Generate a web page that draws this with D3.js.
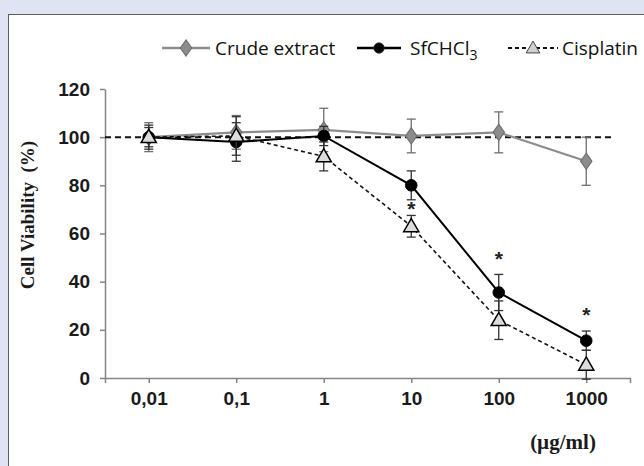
<!DOCTYPE html>
<html>
<head>
<meta charset="utf-8">
<script src="https://cdn.jsdelivr.net/npm/d3@7"></script>
<style>
  body { margin: 0; background: #dfe3f2; }
  svg { display: block; }
</style>
</head>
<body>
<svg class="chart"></svg>
<script>
// concentrations (µg/ml) and tick labels
var doses = [0.01, 0.1, 1, 10, 100, 1000];
var doseLabels = ["0,01", "0,1", "1", "10", "100", "1000"];
var yTicks = [0, 20, 40, 60, 80, 100, 120];

// cell viability (%) and error (sd)
var crudeMean = [100, 102, 103, 100.5, 102, 90];
var crudeErr = [6, 7, 9, 7, 8.5, 10];
var sfMean = [100, 98, 100.5, 80, 35.5, 15.5];
var sfErr = [5, 8, 4, 6, 7.5, 4];
var cisMean = [100, 100.5, 92, 63, 24, 5.5];
var cisErr = [4, 8, 6, 4.5, 8, 6];

// significance stars
var starDoses = [10, 100, 1000];
var starValues = [71.5, 50.5, 27.5];

var width = 644, height = 466;

var svg = d3.select("svg.chart")
	.attr("width", width)
	.attr("height", height);

// white panel
svg.append("rect")
	.attr("x", 8.5)
	.attr("y", 14.5)
	.attr("width", 700)
	.attr("height", 500)
	.attr("fill", "#fff")
	.attr("stroke", "#5e5e5e")
	.attr("stroke-width", 1);

var x = d3.scaleLog()
	.domain([Math.pow(10, -2.5), Math.pow(10, 3.5)])
	.range([105, 630]);

var y = d3.scaleLinear()
	.domain([0, 120])
	.range([378, 89]);

var axisColor = "#858585";
var tickFont = "bold 19px 'Liberation Sans', Arial, sans-serif";

// y axis
var yAxis = svg.append("g")
	.attr("transform", "translate(105,0)")
	.call(d3.axisLeft(y).tickValues(yTicks).tickSize(5).tickSizeOuter(0).tickPadding(10));
yAxis.select(".domain").attr("stroke", axisColor).attr("stroke-width", 1.5);
yAxis.selectAll(".tick line").attr("stroke", axisColor).attr("stroke-width", 1.5);
yAxis.selectAll(".tick text")
	.attr("fill", "#1a1a1a")
	.style("font", tickFont);

// x axis, ticks at every dose plus both ends
var xAxis = svg.append("g")
	.attr("transform", "translate(0,378)")
	.call(d3.axisBottom(x).tickValues(doses).tickSize(5).tickSizeOuter(5).tickPadding(9)
		.tickFormat(function(d, i) { return doseLabels[i]; }));
xAxis.select(".domain").attr("stroke", axisColor).attr("stroke-width", 1.5);
xAxis.selectAll(".tick line").attr("stroke", axisColor).attr("stroke-width", 1.5);
xAxis.selectAll(".tick text")
	.attr("fill", "#1a1a1a")
	.style("font", tickFont);

// axis titles
svg.append("text")
	.attr("transform", "translate(34,215) rotate(-90)")
	.attr("text-anchor", "middle")
	.attr("fill", "#1a1a1a")
	.style("font", "bold 19px 'Liberation Serif', 'Times New Roman', serif")
	.style("white-space", "pre")
	.text("Cell Viability  (%)");

svg.append("text")
	.attr("x", 563)
	.attr("y", 449)
	.attr("text-anchor", "middle")
	.attr("fill", "#1a1a1a")
	.style("font", "bold 21px 'Liberation Serif', 'Times New Roman', serif")
	.text("(µg/ml)");

// reference line at 100 %
svg.append("line")
	.attr("x1", 105)
	.attr("x2", 615)
	.attr("y1", y(100))
	.attr("y2", y(100))
	.attr("stroke", "#111")
	.attr("stroke-width", 2)
	.attr("stroke-dasharray", "6,4");

var series = [
	{name: "crude", mean: crudeMean, err: crudeErr, color: "#8c8c8c", width: 2.2, dash: null, marker: "diamond", fill: "#8c8c8c"},
	{name: "sf", mean: sfMean, err: sfErr, color: "#000", width: 2, dash: null, marker: "circle", fill: "#000"},
	{name: "cis", mean: cisMean, err: cisErr, color: "#111", width: 1.6, dash: "4,3", marker: "triangle", fill: "#dcdcdc"}
];

var symbols = {
	diamond: d3.symbol().type(d3.symbolDiamond).size(85),
	circle: d3.symbol().type(d3.symbolCircle).size(105),
	triangle: d3.symbol().type(d3.symbolTriangle).size(100)
};

var line = d3.line()
	.x(function(d) { return x(d.dose); })
	.y(function(d) { return y(d.v); });

series.forEach(function(s) {
	var pts = doses.map(function(d, i) { return {dose: d, v: s.mean[i], e: s.err[i]}; });
	var g = svg.append("g");

	// error bars
	var eb = g.selectAll(".err")
		.data(pts)
		.enter()
		.append("g")
		.attr("stroke", s.name == "crude" ? "#6e6e6e" : "#333")
		.attr("stroke-width", 1.3);
	eb.append("line")
		.attr("x1", function(d) { return x(d.dose); })
		.attr("x2", function(d) { return x(d.dose); })
		.attr("y1", function(d) { return y(d.v + d.e); })
		.attr("y2", function(d) { return y(d.v - d.e); });
	[1, -1].forEach(function(sign) {
		eb.append("line")
			.attr("x1", function(d) { return x(d.dose) - 4.5; })
			.attr("x2", function(d) { return x(d.dose) + 4.5; })
			.attr("y1", function(d) { return y(d.v + sign * d.e); })
			.attr("y2", function(d) { return y(d.v + sign * d.e); });
	});

	g.append("path")
		.datum(pts)
		.attr("d", line)
		.attr("fill", "none")
		.attr("stroke", s.color)
		.attr("stroke-width", s.width)
		.attr("stroke-dasharray", s.dash);

	g.selectAll(".pt")
		.data(pts)
		.enter()
		.append("path")
		.attr("d", symbols[s.marker])
		.attr("transform", function(d) {
			return "translate(" + x(d.dose) + "," + (y(d.v) + (s.marker == "triangle" ? 1 : 0)) + ")" +
				(s.marker == "diamond" ? " scale(1.15,0.95)" : "");
		})
		.attr("fill", s.fill)
		.attr("stroke", s.marker == "diamond" ? "#6e6e6e" : "#000")
		.attr("stroke-width", s.marker == "triangle" ? 1.5 : 1);
});

// stars
svg.selectAll(".star")
	.data(starDoses)
	.enter()
	.append("text")
	.attr("x", function(d) { return x(d); })
	.attr("y", function(d, i) { return y(starValues[i]) + 10; })
	.attr("text-anchor", "middle")
	.attr("fill", "#222")
	.style("font", "bold 21px 'Liberation Sans', Arial, sans-serif")
	.text("*");

// legend
var legendFont = "19px 'Open Sans', 'Noto Sans', sans-serif";
var legend = svg.append("g").attr("transform", "translate(0,48)");
var legendItems = [
	{x1: 162, x2: 210, label: "Crude extract", tx: 215, s: series[0]},
	{x1: 357, x2: 401, label: "SfCHCl", sub: "3", tx: 410, s: series[1]},
	{x1: 508, x2: 558, label: "Cisplatin", tx: 562, s: series[2]}
];
legendItems.forEach(function(it) {
	legend.append("line")
		.attr("x1", it.x1)
		.attr("x2", it.x2)
		.attr("stroke", it.s.color)
		.attr("stroke-width", it.s.width + 0.4)
		.attr("stroke-dasharray", it.s.dash);
	legend.append("path")
		.attr("d", symbols[it.s.marker])
		.attr("transform", "translate(" + (it.x1 + it.x2) / 2 + "," + (it.s.marker == "triangle" ? 1 : 0) + ")" +
			(it.s.marker == "diamond" ? " scale(1.15,0.95)" : " scale(0.9)"))
		.attr("fill", it.s.marker == "triangle" ? "#cfcfcf" : it.s.fill)
		.attr("stroke", it.s.marker == "diamond" ? "#6e6e6e" : "#333")
		.attr("stroke-width", 1);
	var t = legend.append("text")
		.attr("x", it.tx)
		.attr("y", 7)
		.attr("fill", "#111")
		.style("font", legendFont)
		.text(it.label);
	if (it.sub) {
		t.append("tspan")
			.attr("dy", 5)
			.style("font-size", "14px")
			.text(it.sub);
	}
});
</script>
</body>
</html>
